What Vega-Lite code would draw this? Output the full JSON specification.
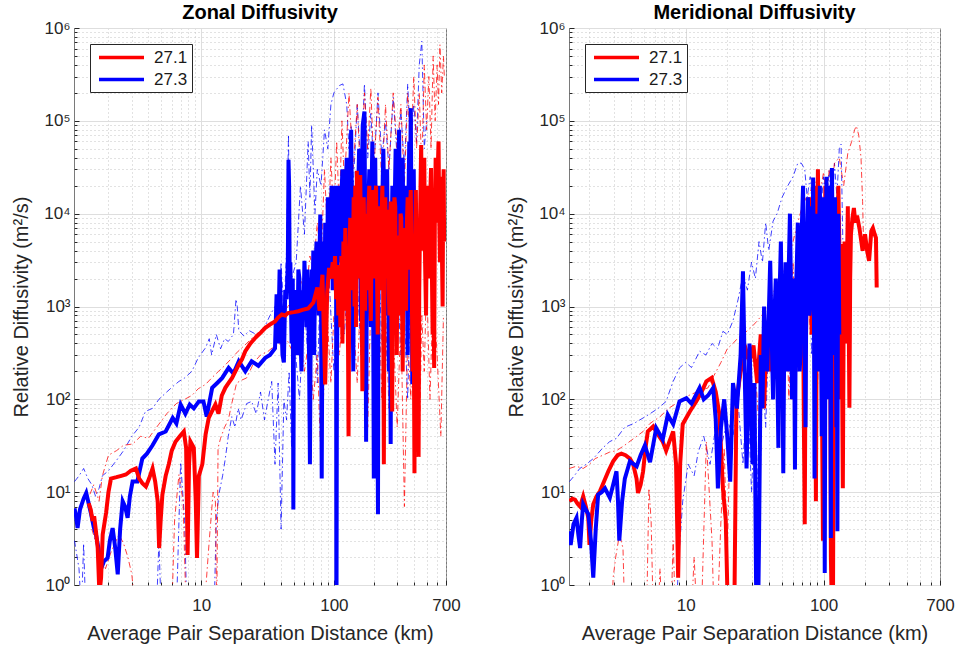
{
"$schema":"https://vega.github.io/schema/vega-lite/v6.json",
"background":"white",
"padding":{"left":11,"top":2,"right":0,"bottom":0},
"spacing":45,
"config":{
"font":"Liberation Sans",
"view":{"stroke":"#7a7a7a","strokeWidth":1},
"title":{"fontSize":20,"fontWeight":"bold","color":"#000000","offset":-4,"anchor":"middle","frame":"group"},
"axis":{"labelFontSize":17,"labelColor":"#262626","titleFontSize":20,"titleFontWeight":"normal","titleColor":"#262626","titlePadding":12,"domain":false,"ticks":true,"tickColor":"#262626","labelPadding":9,"labelOverlap":false,"labelFlush":false,"grid":true,"gridOpacity":1},
"axisX":{"labelPadding":17,"titlePadding":8}
},
"datasets":{
"zr":[{"x":1.42,"y":7.6},{"x":1.47,"y":6.5},{"x":1.52,"y":4.9},{"x":1.56,"y":5.5},{"x":1.61,"y":3.8},{"x":1.66,"y":2.5},{"x":1.71,"y":0.8},{"x":1.76,"y":1.2},{"x":1.81,"y":3.5},{"x":1.92,"y":6},{"x":2.0,"y":10},{"x":2.09,"y":14},{"x":2.3,"y":14.5},{"x":2.5,"y":15},{"x":2.71,"y":15.5},{"x":2.95,"y":17},{"x":3.22,"y":18},{"x":3.41,"y":14},{"x":3.6,"y":12.5},{"x":3.83,"y":11.5},{"x":4.05,"y":14},{"x":4.3,"y":18},{"x":4.5,"y":13},{"x":4.7,"y":8},{"x":4.82,"y":2.5},{"x":4.95,"y":5},{"x":5.1,"y":9.4},{"x":5.4,"y":15},{"x":5.7,"y":20},{"x":6.0,"y":28},{"x":6.4,"y":35},{"x":6.9,"y":40},{"x":7.4,"y":45},{"x":7.7,"y":30},{"x":7.9,"y":2.1},{"x":8.1,"y":20},{"x":8.3,"y":35},{"x":8.8,"y":30},{"x":9.1,"y":8},{"x":9.3,"y":1.95},{"x":9.6,"y":15},{"x":10.2,"y":20},{"x":10.8,"y":42},{"x":11.4,"y":63},{"x":12.1,"y":75},{"x":12.8,"y":88},{"x":13.5,"y":70},{"x":14.3,"y":110},{"x":15.2,"y":133},{"x":16.1,"y":150},{"x":17.1,"y":170},{"x":18.1,"y":200},{"x":19.2,"y":236},{"x":20.3,"y":270},{"x":21.5,"y":330},{"x":23.5,"y":400},{"x":25.6,"y":460},{"x":28,"y":520},{"x":30.4,"y":590},{"x":33,"y":640},{"x":36,"y":690},{"x":38,"y":760},{"x":40.5,"y":820},{"x":43,"y":800},{"x":45,"y":850},{"x":50,"y":870},{"x":54,"y":890},{"x":58,"y":920},{"x":64,"y":950},{"x":70,"y":1100},{"x":75,"y":1600},{"x":78,"y":900},{"x":82,"y":2200},{"x":86,"y":145},{"x":89,"y":1400},{"x":92,"y":2600},{"x":95,"y":2000},{"x":98,"y":3000},{"x":100,"y":2000},{"x":102,"y":3500},{"x":104,"y":1200},{"x":106,"y":2800},{"x":108,"y":800},{"x":110,"y":2500},{"x":112,"y":600},{"x":114,"y":3500},{"x":116,"y":400},{"x":118,"y":5000},{"x":120,"y":1500},{"x":122,"y":7000},{"x":124,"y":900},{"x":126,"y":3000},{"x":128,"y":300},{"x":129,"y":40},{"x":131,"y":4000},{"x":133,"y":9000},{"x":135,"y":1500},{"x":137,"y":5000},{"x":139,"y":2500},{"x":141,"y":15000},{"x":143,"y":1000},{"x":145,"y":20000},{"x":147,"y":600},{"x":149,"y":29000},{"x":151,"y":4000},{"x":153,"y":12000},{"x":155,"y":2000},{"x":158,"y":26000},{"x":160,"y":5000},{"x":162,"y":1500},{"x":164,"y":122},{"x":166,"y":8000},{"x":168,"y":15000},{"x":170,"y":3000},{"x":172,"y":900},{"x":174,"y":10000},{"x":176,"y":3000},{"x":178,"y":8000},{"x":180,"y":1500},{"x":182,"y":12000},{"x":185,"y":20000},{"x":187,"y":2000},{"x":190,"y":700},{"x":193,"y":9000},{"x":196,"y":18000},{"x":199,"y":4000},{"x":202,"y":2000},{"x":205,"y":14000},{"x":208,"y":20000},{"x":211,"y":3000},{"x":214,"y":500},{"x":217,"y":6000},{"x":220,"y":12000},{"x":223,"y":4000},{"x":226,"y":1500},{"x":229,"y":10000},{"x":232,"y":20000},{"x":235,"y":2000},{"x":238,"y":20},{"x":241,"y":3000},{"x":244,"y":15000},{"x":247,"y":5000},{"x":250,"y":2000},{"x":253,"y":11000},{"x":256,"y":9000},{"x":259,"y":1500},{"x":262,"y":800},{"x":265,"y":7000},{"x":268,"y":13500},{"x":271,"y":1000},{"x":275,"y":74},{"x":278,"y":2000},{"x":282,"y":5000},{"x":286,"y":15000},{"x":290,"y":12000},{"x":294,"y":1500},{"x":298,"y":300},{"x":302,"y":4000},{"x":306,"y":5800},{"x":310,"y":800},{"x":314,"y":1500},{"x":318,"y":10000},{"x":322,"y":9000},{"x":326,"y":2000},{"x":330,"y":200},{"x":335,"y":3000},{"x":340,"y":7000},{"x":345,"y":1500},{"x":350,"y":900},{"x":355,"y":8000},{"x":360,"y":15000},{"x":365,"y":3000},{"x":370,"y":2500},{"x":375,"y":12000},{"x":380,"y":18000},{"x":386,"y":2000},{"x":392,"y":200},{"x":398,"y":3000},{"x":405,"y":16},{"x":410,"y":5000},{"x":415,"y":18000},{"x":420,"y":2000},{"x":425,"y":300},{"x":430,"y":3000},{"x":435,"y":24},{"x":440,"y":1500},{"x":445,"y":6000},{"x":450,"y":20000},{"x":455,"y":55000},{"x":460,"y":10000},{"x":465,"y":4000},{"x":472,"y":25000},{"x":480,"y":40000},{"x":487,"y":3000},{"x":495,"y":800},{"x":502,"y":8000},{"x":510,"y":20000},{"x":517,"y":5000},{"x":525,"y":2000},{"x":532,"y":15000},{"x":540,"y":31000},{"x":547,"y":3000},{"x":555,"y":500},{"x":562,"y":1500},{"x":570,"y":217},{"x":577,"y":10000},{"x":585,"y":40000},{"x":592,"y":15000},{"x":600,"y":8000},{"x":607,"y":30000},{"x":615,"y":60000},{"x":622,"y":10000},{"x":630,"y":3000},{"x":637,"y":12000},{"x":645,"y":25000},{"x":652,"y":4000},{"x":660,"y":1000},{"x":666,"y":15000},{"x":672,"y":30000},{"x":676,"y":8000},{"x":680,"y":5000}],
"zb":[{"x":1.11,"y":6.7},{"x":1.14,"y":5.5},{"x":1.17,"y":4.1},{"x":1.22,"y":6.5},{"x":1.3,"y":8.5},{"x":1.36,"y":9.8},{"x":1.42,"y":7.5},{"x":1.48,"y":5.8},{"x":1.55,"y":4.2},{"x":1.61,"y":3.5},{"x":1.68,"y":2.5},{"x":1.76,"y":1.5},{"x":1.85,"y":1.8},{"x":1.97,"y":1.95},{"x":2.05,"y":3},{"x":2.15,"y":4.1},{"x":2.25,"y":2.5},{"x":2.35,"y":1.3},{"x":2.45,"y":4},{"x":2.56,"y":8},{"x":2.67,"y":7},{"x":2.79,"y":5.3},{"x":2.9,"y":9},{"x":3.04,"y":13},{"x":3.3,"y":13},{"x":3.6,"y":23},{"x":3.9,"y":26},{"x":4.3,"y":32},{"x":4.8,"y":42},{"x":5.4,"y":45},{"x":6.1,"y":63},{"x":6.5,"y":55},{"x":7.0,"y":88},{"x":7.6,"y":70},{"x":8.2,"y":88},{"x":8.8,"y":80},{"x":9.6,"y":95},{"x":10.4,"y":95},{"x":11,"y":65},{"x":12.1,"y":133},{"x":13.2,"y":150},{"x":14.4,"y":170},{"x":16.1,"y":218},{"x":17.5,"y":190},{"x":19.2,"y":257},{"x":21.5,"y":200},{"x":24,"y":257},{"x":27,"y":230},{"x":30.4,"y":280},{"x":33,"y":300},{"x":36,"y":355},{"x":37,"y":1350},{"x":38,"y":400},{"x":39,"y":2500},{"x":40,"y":900},{"x":41,"y":300},{"x":42,"y":250},{"x":43,"y":1500},{"x":44,"y":1200},{"x":45,"y":3000},{"x":45.5,"y":38000},{"x":46,"y":20000},{"x":46.5,"y":1500},{"x":47,"y":3000},{"x":48,"y":400},{"x":49,"y":2000},{"x":49.5,"y":6.5},{"x":50,"y":800},{"x":51,"y":1500},{"x":52,"y":400},{"x":53,"y":300},{"x":54,"y":2500},{"x":55,"y":2000},{"x":56,"y":500},{"x":57,"y":200},{"x":58,"y":1500},{"x":59,"y":800},{"x":60,"y":3100},{"x":61,"y":1500},{"x":62,"y":600},{"x":63,"y":2500},{"x":64,"y":1000},{"x":65,"y":300},{"x":66,"y":20},{"x":67,"y":800},{"x":68,"y":2500},{"x":69,"y":1000},{"x":70,"y":4000},{"x":71,"y":300},{"x":72,"y":1500},{"x":73,"y":3000},{"x":74,"y":5000},{"x":75,"y":1500},{"x":76,"y":2500},{"x":77,"y":800},{"x":78,"y":4000},{"x":79,"y":9800},{"x":80,"y":1500},{"x":81,"y":14},{"x":82,"y":800},{"x":83,"y":5000},{"x":84,"y":3000},{"x":85,"y":800},{"x":86,"y":8000},{"x":87,"y":400},{"x":88,"y":5000},{"x":89,"y":2000},{"x":90,"y":15000},{"x":91,"y":3000},{"x":92,"y":8000},{"x":93,"y":2000},{"x":94,"y":12000},{"x":95,"y":4000},{"x":96,"y":20000},{"x":97,"y":8000},{"x":98,"y":1500},{"x":99,"y":5000},{"x":100,"y":15000},{"x":101,"y":3000},{"x":102,"y":9000},{"x":103,"y":20000},{"x":104,"y":5000},{"x":104.5,"y":0.2},{"x":105.5,"y":300},{"x":106,"y":500},{"x":107,"y":8000},{"x":108,"y":20000},{"x":110,"y":8000},{"x":112,"y":3000},{"x":114,"y":15000},{"x":116,"y":30000},{"x":118,"y":8000},{"x":120,"y":1000},{"x":122,"y":12000},{"x":125,"y":40000},{"x":127,"y":5000},{"x":130,"y":3000},{"x":132,"y":20000},{"x":135,"y":80000},{"x":137,"y":8000},{"x":140,"y":200},{"x":142,"y":5000},{"x":145,"y":20000},{"x":147,"y":6000},{"x":150,"y":2000},{"x":152,"y":15000},{"x":155,"y":50000},{"x":157,"y":8000},{"x":160,"y":700},{"x":162,"y":20000},{"x":165,"y":90000},{"x":170,"y":126000},{"x":172,"y":10000},{"x":175,"y":35},{"x":177,"y":2000},{"x":180,"y":4000},{"x":182,"y":12000},{"x":185,"y":30000},{"x":187,"y":3000},{"x":190,"y":600},{"x":192,"y":15000},{"x":195,"y":60000},{"x":197,"y":5000},{"x":200,"y":14},{"x":202,"y":3000},{"x":205,"y":40000},{"x":207,"y":8000},{"x":210,"y":1500},{"x":212,"y":300},{"x":215,"y":5.8},{"x":217,"y":3000},{"x":220,"y":20000},{"x":224,"y":8000},{"x":228,"y":2000},{"x":232,"y":15000},{"x":236,"y":50000},{"x":240,"y":10000},{"x":244,"y":800},{"x":248,"y":8000},{"x":252,"y":30000},{"x":256,"y":3000},{"x":260,"y":200},{"x":264,"y":1500},{"x":268,"y":33},{"x":272,"y":5000},{"x":276,"y":20000},{"x":280,"y":8000},{"x":284,"y":3000},{"x":288,"y":15000},{"x":292,"y":50000},{"x":296,"y":5000},{"x":300,"y":600},{"x":305,"y":20000},{"x":310,"y":80000},{"x":315,"y":10000},{"x":320,"y":2000},{"x":325,"y":15000},{"x":330,"y":40000},{"x":335,"y":5000},{"x":340,"y":1000},{"x":345,"y":8000},{"x":350,"y":20000},{"x":355,"y":2000},{"x":360,"y":300},{"x":365,"y":15000},{"x":370,"y":60000},{"x":375,"y":20000},{"x":380,"y":137000},{"x":385,"y":5000},{"x":390,"y":145},{"x":395,"y":8000},{"x":400,"y":30000},{"x":405,"y":3000}],
"zrh":[{"x":1.45,"y":9.5},{"x":1.55,"y":12},{"x":1.7,"y":8},{"x":1.8,"y":15},{"x":2.0,"y":25},{"x":2.3,"y":28},{"x":2.6,"y":32},{"x":3.04,"y":33},{"x":3.5,"y":40},{"x":4.0,"y":38},{"x":4.8,"y":54},{"x":5.5,"y":70},{"x":6.5,"y":90},{"x":7.5,"y":100},{"x":8.5,"y":110},{"x":9.5,"y":130},{"x":10.8,"y":145},{"x":12,"y":170},{"x":13.5,"y":200},{"x":15,"y":230},{"x":17.1,"y":280},{"x":19,"y":330},{"x":22,"y":400},{"x":25,"y":480},{"x":30,"y":590},{"x":35,"y":700},{"x":40,"y":800},{"x":45,"y":1000},{"x":50,"y":1200},{"x":54,"y":1450},{"x":58,"y":2000},{"x":62,"y":1500},{"x":66,"y":3500},{"x":70,"y":2500},{"x":75,"y":8000},{"x":80,"y":3000},{"x":85,"y":30000},{"x":90,"y":5000},{"x":95,"y":40000},{"x":100,"y":8000},{"x":105,"y":60000},{"x":110,"y":10000},{"x":115,"y":100000},{"x":120,"y":20000},{"x":130,"y":200000},{"x":140,"y":30000},{"x":150,"y":150000},{"x":160,"y":20000},{"x":170,"y":200000},{"x":180,"y":50000},{"x":190,"y":225000},{"x":200,"y":30000},{"x":215,"y":180000},{"x":230,"y":20000},{"x":245,"y":150000},{"x":260,"y":30000},{"x":280,"y":200000},{"x":300,"y":50000},{"x":320,"y":150000},{"x":340,"y":20000},{"x":360,"y":200000},{"x":380,"y":40000},{"x":400,"y":300000},{"x":420,"y":50000},{"x":440,"y":200000},{"x":460,"y":30000},{"x":480,"y":400000},{"x":500,"y":80000},{"x":520,"y":300000},{"x":540,"y":50000},{"x":560,"y":500000},{"x":580,"y":100000},{"x":600,"y":400000},{"x":615,"y":150000},{"x":630,"y":660000},{"x":650,"y":200000},{"x":670,"y":500000},{"x":680,"y":300000}],
"zbh":[{"x":1.11,"y":13},{"x":1.2,"y":15},{"x":1.3,"y":18},{"x":1.4,"y":14},{"x":1.5,"y":12},{"x":1.6,"y":9},{"x":1.7,"y":11},{"x":1.8,"y":15},{"x":2.0,"y":17},{"x":2.3,"y":22},{"x":2.6,"y":28},{"x":3.0,"y":40},{"x":3.4,"y":50},{"x":3.8,"y":74},{"x":4.3,"y":80},{"x":4.8,"y":100},{"x":5.5,"y":120},{"x":6.2,"y":140},{"x":6.8,"y":156},{"x":7.5,"y":170},{"x":8.5,"y":200},{"x":9.5,"y":280},{"x":10.8,"y":360},{"x":11.5,"y":450},{"x":12,"y":300},{"x":13,"y":500},{"x":14,"y":350},{"x":15,"y":450},{"x":16,"y":420},{"x":17.5,"y":500},{"x":18.3,"y":1200},{"x":18.7,"y":1000},{"x":19.2,"y":550},{"x":21,"y":480},{"x":23,"y":550},{"x":26,"y":500},{"x":30,"y":600},{"x":33,"y":800},{"x":36,"y":1000},{"x":38,"y":500},{"x":40,"y":3000},{"x":42,"y":800},{"x":44,"y":4000},{"x":45.5,"y":71000},{"x":46.5,"y":3000},{"x":48,"y":2000},{"x":52,"y":3000},{"x":56,"y":20000},{"x":60,"y":6000},{"x":64,"y":60000},{"x":66,"y":15000},{"x":68,"y":90000},{"x":72,"y":10000},{"x":75,"y":30000},{"x":80,"y":20000},{"x":85,"y":80000},{"x":90,"y":50000},{"x":95,"y":150000},{"x":100,"y":200000},{"x":110,"y":240000},{"x":117,"y":250000},{"x":125,"y":150000},{"x":130,"y":50000},{"x":135,"y":90000},{"x":140,"y":20000},{"x":150,"y":150000},{"x":160,"y":30000},{"x":170,"y":250000},{"x":180,"y":40000},{"x":190,"y":120000},{"x":200,"y":30000},{"x":215,"y":200000},{"x":230,"y":40000},{"x":245,"y":100000},{"x":260,"y":30000},{"x":280,"y":180000},{"x":300,"y":40000},{"x":320,"y":130000},{"x":340,"y":30000},{"x":360,"y":250000},{"x":380,"y":50000},{"x":400,"y":150000},{"x":420,"y":60000},{"x":440,"y":400000},{"x":460,"y":720000},{"x":470,"y":200000},{"x":480,"y":50000},{"x":500,"y":100000}],
"zrl":[{"x":1.5,"y":4},{"x":1.7,"y":2.2},{"x":1.9,"y":1.5},{"x":2.1,"y":2.3},{"x":2.4,"y":3.5},{"x":2.6,"y":2.8},{"x":2.8,"y":2},{"x":3.0,"y":1.3},{"x":3.2,"y":0.5},{"x":6.0,"y":0.5},{"x":6.3,"y":5},{"x":6.8,"y":15.5},{"x":7.3,"y":8},{"x":7.7,"y":0.5},{"x":10.5,"y":0.5},{"x":11.5,"y":3},{"x":12.3,"y":10},{"x":12.8,"y":8},{"x":13.1,"y":0.5},{"x":13.4,"y":30},{"x":14,"y":38},{"x":15,"y":50},{"x":16,"y":60},{"x":17,"y":90},{"x":18.5,"y":150},{"x":20,"y":160},{"x":22,"y":170},{"x":25,"y":250},{"x":28,"y":300},{"x":32,"y":330},{"x":36,"y":380},{"x":40,"y":400},{"x":45,"y":420},{"x":50,"y":300},{"x":55,"y":500},{"x":60,"y":200},{"x":65,"y":450},{"x":70,"y":100},{"x":75,"y":300},{"x":80,"y":21},{"x":85,"y":200},{"x":90,"y":600},{"x":95,"y":150},{"x":100,"y":800},{"x":110,"y":300},{"x":120,"y":1500},{"x":130,"y":200},{"x":140,"y":800},{"x":150,"y":150},{"x":160,"y":2000},{"x":170,"y":400},{"x":180,"y":50},{"x":190,"y":1200},{"x":200,"y":300},{"x":215,"y":3000},{"x":230,"y":100},{"x":245,"y":1000},{"x":260,"y":80},{"x":280,"y":600},{"x":300,"y":50},{"x":320,"y":800},{"x":340,"y":7},{"x":360,"y":500},{"x":380,"y":100},{"x":400,"y":2000},{"x":420,"y":300},{"x":440,"y":30},{"x":460,"y":800},{"x":480,"y":200},{"x":500,"y":2000},{"x":530,"y":100},{"x":560,"y":1500},{"x":600,"y":300},{"x":640,"y":40},{"x":670,"y":800}],
"zbl":[{"x":1.11,"y":3},{"x":1.2,"y":1.5},{"x":1.25,"y":0.5},{"x":1.3,"y":2.8},{"x":1.35,"y":0.5},{"x":4.6,"y":0.5},{"x":4.8,"y":3},{"x":5.0,"y":0.5},{"x":6.5,"y":0.5},{"x":7.0,"y":21},{"x":7.5,"y":5},{"x":7.8,"y":0.5},{"x":12.5,"y":0.5},{"x":13,"y":5},{"x":13.6,"y":9.5},{"x":14.5,"y":15},{"x":15.2,"y":23},{"x":16,"y":40},{"x":17,"y":65},{"x":18,"y":50},{"x":19,"y":80},{"x":20,"y":60},{"x":22,"y":90},{"x":24,"y":95},{"x":26,"y":70},{"x":28,"y":120},{"x":30,"y":60},{"x":32,"y":100},{"x":34,"y":156},{"x":36,"y":20},{"x":38,"y":150},{"x":40,"y":4},{"x":42,"y":100},{"x":44,"y":60},{"x":46,"y":200},{"x":48,"y":30},{"x":50,"y":500},{"x":55,"y":100},{"x":60,"y":1000},{"x":65,"y":200},{"x":70,"y":2000},{"x":75,"y":150},{"x":80,"y":3000},{"x":85,"y":500},{"x":90,"y":4000},{"x":95,"y":800},{"x":100,"y":200},{"x":110,"y":2000},{"x":120,"y":500},{"x":130,"y":3000},{"x":140,"y":800},{"x":150,"y":2000},{"x":160,"y":300},{"x":170,"y":5000},{"x":180,"y":1000},{"x":190,"y":3000},{"x":200,"y":200},{"x":220,"y":2000},{"x":240,"y":100},{"x":260,"y":1500},{"x":280,"y":400},{"x":300,"y":2000},{"x":320,"y":300},{"x":340,"y":800},{"x":360,"y":100},{"x":380,"y":2000},{"x":400,"y":80},{"x":420,"y":1000}],
"mr":[{"x":1.43,"y":8},{"x":1.5,"y":8.5},{"x":1.57,"y":8.3},{"x":1.64,"y":7.5},{"x":1.71,"y":7},{"x":1.8,"y":9},{"x":1.88,"y":7},{"x":1.96,"y":5.3},{"x":2.0,"y":2.7},{"x":2.06,"y":5},{"x":2.13,"y":7.4},{"x":2.25,"y":9},{"x":2.38,"y":10.2},{"x":2.55,"y":13},{"x":2.74,"y":16.8},{"x":2.97,"y":21.5},{"x":3.2,"y":25},{"x":3.41,"y":26},{"x":3.65,"y":25},{"x":3.93,"y":23},{"x":4.15,"y":20},{"x":4.39,"y":14},{"x":4.5,"y":9.8},{"x":4.7,"y":12},{"x":4.9,"y":16.8},{"x":5.1,"y":30},{"x":5.3,"y":45},{"x":5.8,"y":51},{"x":6.4,"y":40},{"x":6.8,"y":35},{"x":7.2,"y":28},{"x":7.6,"y":35},{"x":8.1,"y":45},{"x":8.5,"y":20},{"x":8.8,"y":1.2},{"x":9.1,"y":20},{"x":9.5,"y":54},{"x":10.7,"y":74},{"x":11.9,"y":95},{"x":13,"y":120},{"x":14.1,"y":156},{"x":15.4,"y":170},{"x":16.5,"y":120},{"x":17.5,"y":70},{"x":18.6,"y":11},{"x":19.5,"y":5},{"x":20.2,"y":0.5},{"x":22.5,"y":0.5},{"x":23.3,"y":95},{"x":25,"y":200},{"x":27.5,"y":330},{"x":29,"y":250},{"x":31,"y":380},{"x":33,"y":150},{"x":35,"y":500},{"x":37,"y":80},{"x":39,"y":700},{"x":41,"y":200},{"x":43,"y":1000},{"x":45,"y":300},{"x":47,"y":1500},{"x":49,"y":150},{"x":51,"y":1800},{"x":54,"y":2040},{"x":56,"y":400},{"x":58,"y":1500},{"x":60,"y":100},{"x":61,"y":1000},{"x":62,"y":1500},{"x":63,"y":2000},{"x":64,"y":800},{"x":65,"y":400},{"x":66,"y":1500},{"x":67,"y":2600},{"x":68,"y":1000},{"x":69,"y":500},{"x":70,"y":300},{"x":71,"y":1000},{"x":72,"y":50},{"x":73,"y":4.5},{"x":74,"y":300},{"x":75,"y":800},{"x":76,"y":2000},{"x":77,"y":5000},{"x":78,"y":3000},{"x":79,"y":15000},{"x":80,"y":4000},{"x":81,"y":1500},{"x":82,"y":500},{"x":83,"y":3000},{"x":84,"y":6000},{"x":85,"y":20000},{"x":86,"y":3000},{"x":87,"y":200},{"x":88,"y":8},{"x":89,"y":500},{"x":90,"y":5000},{"x":91,"y":30000},{"x":92,"y":8000},{"x":93,"y":3000},{"x":95,"y":1000},{"x":97,"y":200},{"x":99,"y":3},{"x":101,"y":800},{"x":103,"y":20000},{"x":105,"y":3000},{"x":107,"y":300},{"x":109,"y":2000},{"x":110,"y":12000},{"x":111,"y":4000},{"x":112,"y":200},{"x":113,"y":2},{"x":115,"y":0.5},{"x":117,"y":0.5},{"x":119,"y":1000},{"x":120,"y":8000},{"x":122,"y":2000},{"x":124,"y":500},{"x":126,"y":3000},{"x":128,"y":20000},{"x":130,"y":5000},{"x":132,"y":100},{"x":134,"y":4700},{"x":136,"y":300},{"x":138,"y":11},{"x":140,"y":1000},{"x":142,"y":5000},{"x":144,"y":2000},{"x":146,"y":400},{"x":148,"y":3000},{"x":150,"y":12000},{"x":152,"y":1000},{"x":154,"y":81},{"x":156,"y":2000},{"x":158,"y":6000},{"x":162,"y":9000},{"x":166,"y":11500},{"x":170,"y":8000},{"x":175,"y":9500},{"x":182,"y":7000},{"x":192,"y":4000},{"x":200,"y":6000},{"x":207,"y":4000},{"x":214,"y":3100},{"x":222,"y":6500},{"x":228,"y":7000},{"x":235,"y":6000},{"x":240,"y":5500},{"x":243,"y":1600}],
"mb":[{"x":1.43,"y":3.8},{"x":1.46,"y":2.7},{"x":1.53,"y":4.5},{"x":1.61,"y":5.3},{"x":1.66,"y":3.5},{"x":1.71,"y":2.5},{"x":1.76,"y":5},{"x":1.8,"y":7.4},{"x":1.88,"y":6.5},{"x":1.96,"y":5.8},{"x":2.05,"y":3},{"x":2.13,"y":1.2},{"x":2.22,"y":4},{"x":2.31,"y":9.4},{"x":2.45,"y":10},{"x":2.59,"y":11},{"x":2.81,"y":8.7},{"x":2.97,"y":12},{"x":3.14,"y":16.8},{"x":3.22,"y":8},{"x":3.29,"y":3},{"x":3.45,"y":8},{"x":3.61,"y":14},{"x":3.93,"y":21.5},{"x":4.4,"y":19},{"x":4.7,"y":25},{"x":5.05,"y":32},{"x":5.5,"y":21},{"x":6.1,"y":49},{"x":6.8,"y":37},{"x":7.4,"y":68},{"x":8.1,"y":54},{"x":9.0,"y":95},{"x":10.1,"y":103},{"x":11,"y":90},{"x":12.6,"y":133},{"x":13.5,"y":100},{"x":14.5,"y":110},{"x":15.8,"y":133},{"x":16.5,"y":60},{"x":17.1,"y":11},{"x":18,"y":50},{"x":19,"y":100},{"x":20,"y":40},{"x":21,"y":13},{"x":22,"y":150},{"x":23.5,"y":80},{"x":25,"y":300},{"x":26,"y":2400},{"x":27,"y":100},{"x":27.6,"y":18},{"x":29,"y":400},{"x":30.5,"y":20},{"x":31.5,"y":150},{"x":32.5,"y":0.5},{"x":33.5,"y":0.5},{"x":34,"y":3},{"x":35,"y":300},{"x":36,"y":80},{"x":37,"y":1000},{"x":38,"y":300},{"x":39,"y":200},{"x":40,"y":800},{"x":41,"y":3100},{"x":42,"y":500},{"x":43,"y":100},{"x":44,"y":800},{"x":45,"y":2000},{"x":46,"y":300},{"x":47,"y":30},{"x":48,"y":1500},{"x":49,"y":5000},{"x":50,"y":500},{"x":51,"y":16},{"x":52,"y":800},{"x":53,"y":3000},{"x":54,"y":1000},{"x":55,"y":200},{"x":56,"y":3000},{"x":57,"y":10000},{"x":58,"y":1500},{"x":59,"y":100},{"x":60,"y":2000},{"x":61,"y":800},{"x":62,"y":17.5},{"x":63,"y":1500},{"x":64,"y":3000},{"x":65,"y":8000},{"x":66,"y":1000},{"x":67,"y":200},{"x":68,"y":300},{"x":69,"y":5000},{"x":70,"y":10000},{"x":71,"y":20000},{"x":72,"y":2000},{"x":73,"y":300},{"x":74,"y":50},{"x":75,"y":2000},{"x":76,"y":6000},{"x":77,"y":15000},{"x":78,"y":3000},{"x":79,"y":800},{"x":80,"y":1000},{"x":81,"y":6000},{"x":82,"y":12000},{"x":83,"y":3000},{"x":84,"y":24500},{"x":85,"y":2000},{"x":86,"y":14},{"x":87,"y":500},{"x":88,"y":10000},{"x":89,"y":3000},{"x":90,"y":800},{"x":91,"y":200},{"x":92,"y":5000},{"x":93,"y":8000},{"x":94,"y":20000},{"x":95,"y":3000},{"x":96,"y":500},{"x":97,"y":40},{"x":98,"y":2000},{"x":99,"y":15000},{"x":100,"y":3000},{"x":101,"y":100},{"x":102,"y":1.35},{"x":103,"y":300},{"x":104,"y":5000},{"x":105,"y":25000},{"x":106,"y":4000},{"x":107,"y":800},{"x":108,"y":100},{"x":109,"y":5000},{"x":110,"y":12000},{"x":111,"y":20000},{"x":112,"y":500},{"x":113,"y":3.2},{"x":114,"y":3000},{"x":115,"y":31000},{"x":116,"y":8000},{"x":117,"y":1500},{"x":118,"y":300},{"x":119,"y":4000},{"x":120,"y":8000},{"x":121,"y":15000},{"x":122,"y":3000},{"x":123,"y":500},{"x":124,"y":50},{"x":125,"y":300},{"x":126,"y":3.8},{"x":127,"y":1000},{"x":128,"y":10000},{"x":129,"y":3000},{"x":130,"y":500}],
"mbh":[{"x":1.43,"y":13},{"x":1.55,"y":15},{"x":1.7,"y":18},{"x":1.9,"y":20},{"x":2.13,"y":23},{"x":2.5,"y":30},{"x":2.8,"y":35},{"x":3.14,"y":38},{"x":3.6,"y":50},{"x":4.2,"y":55},{"x":4.9,"y":63},{"x":5.5,"y":70},{"x":6.3,"y":80},{"x":7.2,"y":95},{"x":8,"y":150},{"x":9.0,"y":218},{"x":10,"y":250},{"x":11,"y":220},{"x":12.6,"y":330},{"x":14,"y":300},{"x":15.5,"y":400},{"x":17,"y":350},{"x":18.6,"y":540},{"x":20,"y":500},{"x":22,"y":700},{"x":24,"y":1200},{"x":26,"y":2200},{"x":28,"y":1500},{"x":30,"y":3000},{"x":32,"y":2000},{"x":34,"y":5000},{"x":36,"y":3000},{"x":38,"y":8000},{"x":40,"y":4000},{"x":43,"y":8300},{"x":46,"y":10000},{"x":50,"y":15000},{"x":55,"y":20000},{"x":60,"y":25000},{"x":65,"y":35000},{"x":69,"y":35000},{"x":73,"y":30000},{"x":76,"y":15000},{"x":80,"y":25000},{"x":85,"y":8000},{"x":90,"y":20000},{"x":95,"y":10000},{"x":100,"y":25000},{"x":105,"y":15000},{"x":110,"y":30000},{"x":115,"y":8000},{"x":120,"y":35000},{"x":125,"y":15000},{"x":130,"y":50000},{"x":134,"y":56000},{"x":138,"y":5000}],
"mrh":[{"x":1.43,"y":18},{"x":1.6,"y":19},{"x":1.8,"y":18},{"x":2.0,"y":20},{"x":2.2,"y":23},{"x":2.5,"y":25},{"x":2.8,"y":27},{"x":3.14,"y":28},{"x":3.6,"y":32},{"x":4.2,"y":38},{"x":4.9,"y":45},{"x":5.5,"y":55},{"x":6.5,"y":65},{"x":7.5,"y":80},{"x":9.0,"y":95},{"x":10.5,"y":110},{"x":12,"y":120},{"x":14.5,"y":133},{"x":16,"y":180},{"x":18,"y":250},{"x":20,"y":350},{"x":22,"y":400},{"x":24,"y":460},{"x":26,"y":500},{"x":28,"y":550},{"x":30,"y":600},{"x":33,"y":700},{"x":36,"y":820},{"x":40,"y":1000},{"x":44,"y":1500},{"x":50,"y":2200},{"x":55,"y":3000},{"x":60,"y":5000},{"x":65,"y":8000},{"x":70,"y":12000},{"x":75,"y":15000},{"x":79,"y":17000},{"x":85,"y":20000},{"x":90,"y":25000},{"x":95,"y":18000},{"x":100,"y":28000},{"x":105,"y":15000},{"x":110,"y":30000},{"x":115,"y":20000},{"x":120,"y":35000},{"x":130,"y":40000},{"x":140,"y":20000},{"x":150,"y":45000},{"x":160,"y":60000},{"x":168,"y":80000},{"x":173,"y":88000},{"x":180,"y":70000},{"x":187,"y":40000},{"x":192,"y":13500},{"x":195,"y":5000}],
"mrl":[{"x":2.9,"y":0.5},{"x":2.97,"y":1.2},{"x":3.1,"y":2},{"x":3.3,"y":3.5},{"x":3.5,"y":2.5},{"x":3.6,"y":0.5},{"x":5.2,"y":0.5},{"x":5.4,"y":11},{"x":5.6,"y":5},{"x":5.8,"y":0.5},{"x":6.3,"y":0.5},{"x":6.5,"y":1.5},{"x":6.7,"y":0.5},{"x":7.8,"y":0.5},{"x":8.1,"y":3},{"x":8.4,"y":0.5},{"x":11,"y":0.5},{"x":11.5,"y":2},{"x":12,"y":0.5},{"x":13,"y":0.5},{"x":14.1,"y":35},{"x":14.8,"y":10},{"x":15.5,"y":3},{"x":16,"y":0.5},{"x":17,"y":0.5},{"x":18,"y":5},{"x":19,"y":30},{"x":20,"y":2},{"x":21,"y":50},{"x":22,"y":150},{"x":24,"y":100},{"x":26,"y":250},{"x":28,"y":80},{"x":30,"y":300},{"x":32,"y":200},{"x":34,"y":50},{"x":36,"y":400},{"x":38,"y":150},{"x":40,"y":600},{"x":42,"y":200},{"x":44,"y":800},{"x":46,"y":100},{"x":48,"y":1200},{"x":50,"y":300},{"x":53,"y":2000},{"x":56,"y":100},{"x":60,"y":3000},{"x":64,"y":200},{"x":68,"y":5000},{"x":72,"y":300},{"x":76,"y":8000},{"x":80,"y":500},{"x":85,"y":3000},{"x":90,"y":200},{"x":95,"y":5000},{"x":100,"y":600},{"x":105,"y":2000},{"x":110,"y":300},{"x":115,"y":4000},{"x":120,"y":800},{"x":125,"y":3000},{"x":130,"y":1000},{"x":135,"y":2000},{"x":140,"y":500},{"x":145,"y":3000},{"x":150,"y":800}],
"mbl":[{"x":8.5,"y":0.5},{"x":9.0,"y":2.5},{"x":9.5,"y":8},{"x":10.4,"y":20},{"x":11.5,"y":15},{"x":12.3,"y":27},{"x":13.5,"y":40},{"x":15,"y":20},{"x":16.5,"y":50},{"x":18,"y":30},{"x":20,"y":60},{"x":22,"y":40},{"x":24,"y":90},{"x":26,"y":20},{"x":28,"y":150},{"x":30,"y":10},{"x":32,"y":100},{"x":34,"y":3},{"x":36,"y":200},{"x":38,"y":50},{"x":40,"y":500},{"x":43,"y":100},{"x":46,"y":800},{"x":50,"y":200},{"x":54,"y":1500},{"x":58,"y":300},{"x":62,"y":2000},{"x":66,"y":200},{"x":70,"y":3000},{"x":74,"y":500},{"x":78,"y":4000},{"x":82,"y":300},{"x":86,"y":2000},{"x":90,"y":100},{"x":95,"y":3000},{"x":100,"y":500},{"x":105,"y":2000},{"x":110,"y":200},{"x":115,"y":1500},{"x":120,"y":300},{"x":125,"y":1000},{"x":130,"y":200}]
},
"resolve":{"scale":{"color":"independent","x":"independent"},"legend":{"color":"independent"}},
"hconcat":[
{
"title":"Zonal Diffusivity",
"width":372,"height":557,
"encoding":{
"x":{"field":"x","type":"quantitative","title":"Average Pair Separation Distance (km)","scale":{"type":"log","domain":[1.1,700],"nice":false},"axis":{"values":[2,3,4,5,6,7,8,9,10,20,30,40,50,60,70,80,90,100,200,300,400,500,600,700],"labelExpr":"indexof([10,100,700], datum.value) >= 0 ? datum.label : ''","gridColor":{"condition":{"test":"indexof([10,100], datum.value) >= 0","value":"#dedede"},"value":"#c4c4c4"},"gridDash":{"condition":{"test":"indexof([10,100], datum.value) >= 0","value":[]},"value":[1,3]},"tickSize":{"condition":{"test":"indexof([10,100,700], datum.value) >= 0","value":-5},"value":-3}}},
"y":{"field":"y","type":"quantitative","title":"Relative Diffusivity (m²/s)","scale":{"type":"log","domain":[1,1000000],"nice":false},"axis":{"values":[1,2,3,4,5,6,7,8,9,10,20,30,40,50,60,70,80,90,100,200,300,400,500,600,700,800,900,1000,2000,3000,4000,5000,6000,7000,8000,9000,10000,20000,30000,40000,50000,60000,70000,80000,90000,100000,200000,300000,400000,500000,600000,700000,800000,900000,1000000],"labelExpr":"datum.value == 1 ? '10⁰' : datum.value == 10 ? '10¹' : datum.value == 100 ? '10²' : datum.value == 1000 ? '10³' : datum.value == 10000 ? '10⁴' : datum.value == 100000 ? '10⁵' : datum.value == 1000000 ? '10⁶' : ''","gridColor":{"condition":{"test":"indexof([1,10,100,1000,10000,100000,1000000], datum.value) >= 0","value":"#dedede"},"value":"#c4c4c4"},"gridDash":{"condition":{"test":"indexof([1,10,100,1000,10000,100000,1000000], datum.value) >= 0","value":[]},"value":[1,3]},"tickSize":{"condition":{"test":"indexof([1,10,100,1000,10000,100000,1000000], datum.value) >= 0","value":-5},"value":-3}}}
},
"layer":[
{"data":{"name":"zbl"},"mark":{"type":"line","clip":true,"color":"#0000ff","strokeWidth":1,"opacity":0.75,"strokeDash":[6,3,1.5,3]}},
{"data":{"name":"zrl"},"mark":{"type":"line","clip":true,"color":"#ff0000","strokeWidth":1,"opacity":0.75,"strokeDash":[6,3,1.5,3]}},
{"data":{"name":"zbh"},"mark":{"type":"line","clip":true,"color":"#0000ff","strokeWidth":1,"opacity":0.75,"strokeDash":[6,3,1.5,3]}},
{"data":{"name":"zrh"},"mark":{"type":"line","clip":true,"color":"#ff0000","strokeWidth":1,"opacity":0.75,"strokeDash":[6,3,1.5,3]}},
{"data":{"name":"zb"},"mark":{"type":"line","clip":true,"strokeWidth":4},"encoding":{"color":{"datum":"27.3","scale":{"domain":["27.1","27.3"],"range":["#ff0000","#0000ff"]},"legend":{"orient":"none","legendX":16,"legendY":16,"title":null,"strokeColor":"#262626","fillColor":"#ffffff","padding":4,"symbolType":"M-3,0L3,0","symbolSize":225,"symbolOffset":18,"symbolStrokeWidth":3.5,"labelFontSize":17,"labelColor":"#1a1a1a","rowPadding":4,"labelOffset":23}}}},
{"data":{"name":"zr"},"mark":{"type":"line","clip":true,"strokeWidth":4},"encoding":{"color":{"datum":"27.1"}}}
]
},
{
"title":"Meridional Diffusivity",
"width":371,"height":557,
"encoding":{
"x":{"field":"x","type":"quantitative","title":"Average Pair Separation Distance (km)","scale":{"type":"log","domain":[1.42,700],"nice":false},"axis":{"values":[2,3,4,5,6,7,8,9,10,20,30,40,50,60,70,80,90,100,200,300,400,500,600,700],"labelExpr":"indexof([10,100,700], datum.value) >= 0 ? datum.label : ''","gridColor":{"condition":{"test":"indexof([10,100], datum.value) >= 0","value":"#dedede"},"value":"#c4c4c4"},"gridDash":{"condition":{"test":"indexof([10,100], datum.value) >= 0","value":[]},"value":[1,3]},"tickSize":{"condition":{"test":"indexof([10,100,700], datum.value) >= 0","value":-5},"value":-3}}},
"y":{"field":"y","type":"quantitative","title":"Relative Diffusivity (m²/s)","scale":{"type":"log","domain":[1,1000000],"nice":false},"axis":{"values":[1,2,3,4,5,6,7,8,9,10,20,30,40,50,60,70,80,90,100,200,300,400,500,600,700,800,900,1000,2000,3000,4000,5000,6000,7000,8000,9000,10000,20000,30000,40000,50000,60000,70000,80000,90000,100000,200000,300000,400000,500000,600000,700000,800000,900000,1000000],"labelExpr":"datum.value == 1 ? '10⁰' : datum.value == 10 ? '10¹' : datum.value == 100 ? '10²' : datum.value == 1000 ? '10³' : datum.value == 10000 ? '10⁴' : datum.value == 100000 ? '10⁵' : datum.value == 1000000 ? '10⁶' : ''","gridColor":{"condition":{"test":"indexof([1,10,100,1000,10000,100000,1000000], datum.value) >= 0","value":"#dedede"},"value":"#c4c4c4"},"gridDash":{"condition":{"test":"indexof([1,10,100,1000,10000,100000,1000000], datum.value) >= 0","value":[]},"value":[1,3]},"tickSize":{"condition":{"test":"indexof([1,10,100,1000,10000,100000,1000000], datum.value) >= 0","value":-5},"value":-3}}}
},
"layer":[
{"data":{"name":"mbl"},"mark":{"type":"line","clip":true,"color":"#0000ff","strokeWidth":1,"opacity":0.75,"strokeDash":[6,3,1.5,3]}},
{"data":{"name":"mrl"},"mark":{"type":"line","clip":true,"color":"#ff0000","strokeWidth":1,"opacity":0.75,"strokeDash":[6,3,1.5,3]}},
{"data":{"name":"mbh"},"mark":{"type":"line","clip":true,"color":"#0000ff","strokeWidth":1,"opacity":0.75,"strokeDash":[6,3,1.5,3]}},
{"data":{"name":"mrh"},"mark":{"type":"line","clip":true,"color":"#ff0000","strokeWidth":1,"opacity":0.75,"strokeDash":[6,3,1.5,3]}},
{"data":{"name":"mr"},"mark":{"type":"line","clip":true,"strokeWidth":4},"encoding":{"color":{"datum":"27.1","scale":{"domain":["27.1","27.3"],"range":["#ff0000","#0000ff"]},"legend":{"orient":"none","legendX":16,"legendY":16,"title":null,"strokeColor":"#262626","fillColor":"#ffffff","padding":4,"symbolType":"M-3,0L3,0","symbolSize":225,"symbolOffset":18,"symbolStrokeWidth":3.5,"labelFontSize":17,"labelColor":"#1a1a1a","rowPadding":4,"labelOffset":23}}}},
{"data":{"name":"mb"},"mark":{"type":"line","clip":true,"strokeWidth":4},"encoding":{"color":{"datum":"27.3"}}}
]
}
]
}
